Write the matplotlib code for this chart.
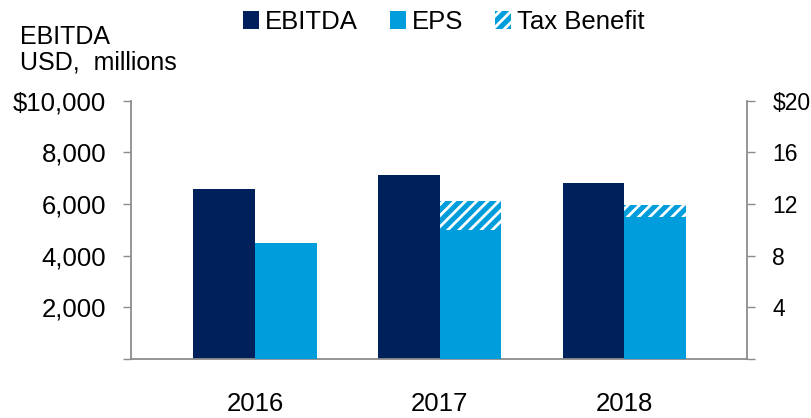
import matplotlib
matplotlib.use("Agg")
import matplotlib.pyplot as plt
import numpy as np
from matplotlib.patches import Patch

plt.rcParams['font.family'] = ['Liberation Sans', 'DejaVu Sans']
plt.rcParams['hatch.linewidth'] = 2.0

years = ["2016", "2017", "2018"]
ebitda = [6580, 7110, 6800]          # USD millions (left axis)
eps = [9.0, 10.0, 11.0]              # USD (right axis)
tax_benefit = [0.0, 2.2, 0.9]        # USD (right axis), stacked on EPS

left_ticks = [2000, 4000, 6000, 8000, 10000]
left_labels = ["2,000", "4,000", "6,000", "8,000", "$10,000"]
right_ticks = [4, 8, 12, 16, 20]
right_labels = ["4", "8", "12", "16", "$20"]

NAVY = "#00205B"
BLUE = "#009DDC"
GRAY = "#8C8C8C"

fig = plt.figure(figsize=(8.11, 4.18), dpi=100)
ax = fig.add_axes([0.161, 0.1411, 0.9207 - 0.161, 0.759 - 0.1411])
ax2 = ax.twinx()

x = np.arange(len(years))
w = 0.334
ax.bar(x - w / 2, ebitda, width=w, color=NAVY, linewidth=0)
ax2.bar(x + w / 2, eps, width=w, color=BLUE, linewidth=0)
ax2.bar(x + w / 2, tax_benefit, width=w, bottom=eps, color=BLUE,
        edgecolor="white", hatch="///", linewidth=0)

ax.set_xlim(-0.674, 2.663)
ax.set_ylim(0, 10000)
ax2.set_ylim(0, 20)

ax.set_yticks([0] + left_ticks)
ax.set_yticklabels([""] + left_labels)
ax2.set_yticks([0] + right_ticks)
ax2.set_yticklabels([""] + right_labels)
ax.set_xticks(x)
ax.set_xticklabels(years)

for a in (ax, ax2):
    a.spines["top"].set_visible(False)
    for s in ("left", "right", "bottom"):
        a.spines[s].set_color(GRAY)
        a.spines[s].set_linewidth(1.3)
ax.spines["right"].set_visible(False)
ax2.spines["left"].set_visible(False)
ax2.spines["bottom"].set_visible(False)

ax.tick_params(axis="y", direction="out", length=5.5, width=1.0, color=GRAY,
               labelsize=18.5, pad=12, labelcolor="black")
ax2.tick_params(axis="y", direction="out", length=5.5, width=1.0, color=GRAY,
                labelsize=16.5, pad=13, labelcolor="black")
ax.tick_params(axis="x", length=0, labelsize=18.5, pad=24)

fig.text(0.0247, 1 - 44 / 418, "EBITDA", fontsize=18, va="baseline", ha="left")
fig.text(0.0247, 1 - 69.3 / 418, "USD,  millions", fontsize=18, va="baseline", ha="left")

handles = [Patch(facecolor=NAVY, linewidth=0),
           Patch(facecolor=BLUE, linewidth=0),
           Patch(facecolor=BLUE, edgecolor="white", hatch="///", linewidth=0)]
fig.legend(handles, ["EBITDA", "EPS", "Tax Benefit"], ncol=3, loc="center",
           bbox_to_anchor=(0.5475, 1 - 22 / 418), frameon=False, fontsize=18.5,
           handlelength=0.6, handleheight=0.65, handletextpad=0.25,
           columnspacing=1.25, borderpad=0, borderaxespad=0)

fig.savefig("out.png", dpi=100)
